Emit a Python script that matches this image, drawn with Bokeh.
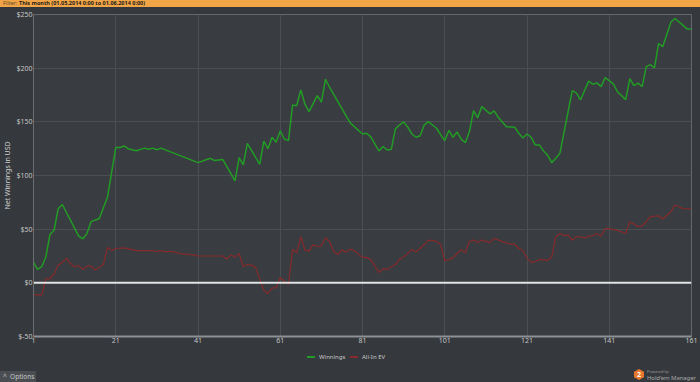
from bokeh.plotting import figure
from bokeh.models import Range1d, FixedTicker, PrintfTickFormatter, Span, Div
from bokeh.layouts import column
from bokeh.embed import file_html
from bokeh.resources import INLINE

# ---- data ----
hands_w = [1, 2, 3, 4, 5, 6, 7, 8, 12, 13, 14, 15, 17, 19, 21, 22, 23, 24, 26, 28, 29, 30,
           31, 32, 41, 44, 45, 47, 50, 51, 52, 53, 56, 57, 58, 59, 60, 61, 62, 63, 64, 65,
           66, 67, 68, 70, 71, 72, 73, 78, 81, 82, 83, 85, 86, 87, 88, 89, 90, 91, 92, 93,
           94, 95, 96, 97, 99, 100, 101, 102, 103, 104, 105, 106, 107, 108, 109, 110, 112,
           113, 114, 116, 118, 119, 120, 121, 122, 123, 124, 125, 126, 127, 128, 129, 132,
           133, 134, 136, 137, 138, 139, 140, 142, 143, 145, 146, 147, 148, 149, 150, 151,
           152, 153, 154, 156, 157, 160, 161]
winnings = [19, 12.5, 15, 24, 45, 49, 69, 73, 43.5, 41, 46, 57, 60, 80, 126, 126, 127.5, 125,
            123, 125.5, 124.5, 125.5, 124, 125.5, 112, 116, 114, 115, 95, 116.6, 110, 130,
            110.4, 132, 125, 135.6, 131, 141.5, 134, 132.5, 165.8, 165, 179.8, 166.4, 159.5,
            174.4, 168.3, 189.7, 182, 149, 138.7, 139.4, 136, 122.9, 127, 123.8, 124.4, 143.4,
            147, 150, 145, 138.7, 135.6, 137, 147, 150.2, 144, 138, 132.5, 142, 135.6, 140.6,
            133.8, 130.6, 140.9, 160.4, 153.6, 164.2, 157.4, 160.2, 154.3, 145.5, 145, 139.4,
            135, 138.7, 135.6, 128.5, 128.5, 122.9, 119, 112, 116, 120.7, 179, 177, 170.4,
            187.9, 185, 186.3, 182.8, 191.2, 185.4, 178, 170.7, 190.3, 183.8, 186, 182.8,
            201.5, 203.3, 200.3, 223, 220, 243, 246.3, 236.4, 236.4]

hands_ev = [1, 3, 4, 5, 6, 7, 8, 9, 10, 11, 12, 13, 14, 15, 16, 17, 18, 19, 20, 21, 23, 26,
            30, 31, 32, 33, 35, 37, 40, 41, 47, 48, 49, 50, 51, 52, 53, 54, 55, 57, 58, 59,
            60, 61, 62, 63, 64, 65, 66, 67, 68, 69, 70, 71, 72, 73, 74, 75, 76, 77, 78, 79,
            81, 82, 83, 85, 86, 87, 88, 89, 90, 91, 92, 93, 94, 95, 97, 98, 99, 100, 101,
            102, 103, 105, 106, 107, 108, 109, 110, 112, 113, 115, 117, 118, 119, 120, 121,
            122, 123, 124, 126, 127, 128, 129, 130, 131, 132, 133, 134, 135, 136, 137, 138,
            139, 140, 142, 144, 145, 146, 147, 148, 149, 150, 151, 153, 154, 156, 157, 159,
            161]
allin_ev = [-11, -11.5, 4, 4, 8, 16.5, 19, 22.7, 18, 15, 16, 12.5, 15.5, 15.5, 12, 14.5, 17,
            33, 30, 32, 32.5, 30, 30, 29, 30, 29, 29, 27, 26, 25, 25, 22, 26, 24, 27.4, 15,
            17, 16.5, 14.4, -6.8, -10, -4.7, -4.7, 5, 1.5, -1.5, 31, 28, 43, 30.5, 29.5,
            35.8, 33.6, 34.7, 42, 38.5, 29, 26.4, 30.5, 28.5, 31.4, 30, 23.7, 23.7, 21.4,
            9.7, 13, 12.7, 14.7, 17, 21.8, 24.2, 27.4, 31, 29, 32, 39.5, 39.5, 38.5, 36,
            20.5, 21.5, 23.5, 30.8, 28.2, 38.7, 40, 37.6, 40, 37.5, 41.4, 38.4, 36, 36, 32,
            30.2, 23, 19, 19.8, 21.8, 21, 24.1, 43, 46, 44, 44.6, 39.8, 42.9, 42.9, 41.7,
            43.5, 43.8, 46, 43.5, 50.7, 49.8, 47.6, 46, 57, 54.8, 52.3, 53, 57, 61.6, 62.5,
            59.5, 66.2, 72.5, 69, 69]

x_ticks = [1, 21, 41, 61, 81, 101, 121, 141, 161]
y_ticks = [-50, 0, 50, 100, 150, 200, 250]
series_names = ["Winnings", "All-In EV"]
series_colors = ["#219c24", "#862a2c"]
y_title = "Net Winnings in USD"
filter_label = "Filter:"
filter_text = "This month (01.05.2014 0:00 to 01.06.2014 0:00)"

FONT = "Noto Sans"
BG = "#35383c"
PLOT_BG = "#393c40"

p = figure(width=700, height=343, x_range=Range1d(1, 161), y_range=Range1d(-50, 250),
           output_backend="svg", toolbar_location=None,
           min_border_left=33, min_border_right=9, min_border_top=7, min_border_bottom=14,
           background_fill_color=PLOT_BG, border_fill_color=BG,
           outline_line_color="#65696d", outline_line_width=1)

zero = Span(location=0, dimension="width", line_color="#e2e2e2", line_width=2, level="glyph")
p.add_layout(zero)

gl = p.line(hands_w, winnings, line_color=series_colors[0], line_width=1.5)
rl = p.line(hands_ev, allin_ev, line_color=series_colors[1], line_width=1.2)

p.xaxis.ticker = FixedTicker(ticks=x_ticks)
p.yaxis.ticker = FixedTicker(ticks=y_ticks)
p.yaxis.formatter = PrintfTickFormatter(format="$%d")
p.xgrid.ticker = FixedTicker(ticks=x_ticks)
p.ygrid.ticker = FixedTicker(ticks=y_ticks)
p.grid.grid_line_color = "#4b4f53"
p.grid.grid_line_width = 1

for ax in (p.xaxis, p.yaxis):
    ax.major_tick_line_color = None
    ax.minor_tick_line_color = None
    ax.major_tick_out = 0
    ax.major_tick_in = 0
    ax.minor_tick_out = 0
    ax.minor_tick_in = 0
    ax.major_label_text_font = FONT
    ax.major_label_text_font_size = "7px"
    ax.major_label_text_color = "#c6c6c6"
p.xaxis.major_label_standoff = 1
p.xaxis.axis_line_color = "#8e9296"
p.xaxis.axis_line_width = 2
p.yaxis.axis_line_color = "#6a6e72"
p.yaxis.axis_line_width = 1
p.yaxis.axis_label = y_title
p.yaxis.axis_label_text_font = FONT
p.yaxis.axis_label_text_font_size = "7px"
p.yaxis.axis_label_text_font_style = "normal"
p.yaxis.axis_label_text_color = "#d2d2d2"
p.yaxis.axis_label_standoff = 1
p.yaxis.major_label_standoff = 1

HOST = {"overflow": "hidden", "font-size": "0px", "line-height": "0px"}

header = Div(
    text=('<div style="position:relative;display:block;vertical-align:top;width:700px;height:7px;overflow:hidden;">'
          '<div style="position:absolute;left:3px;top:0px;font-family:\'Noto Sans\',sans-serif;'
          'font-size:5.5px;line-height:7px;white-space:nowrap;color:#1a1a1a;">'
          '<span style="color:#5b4a2e">' + filter_label + '</span> <b>' + filter_text + '</b></div></div>'),
    width=700, height=7, margin=0,
    styles=dict(HOST, **{"background-color": "#f2a546"}))

legend_html = (
    '<div style="position:absolute;left:307px;top:6px;width:8px;height:2px;background:' + series_colors[0] + ';"></div>'
    '<div style="position:absolute;left:319px;top:3px;font-size:6px;line-height:8px;color:#c8c8c8;white-space:nowrap;">'
    + series_names[0] + '</div>'
    '<div style="position:absolute;left:350px;top:6px;width:8px;height:2px;background:' + series_colors[1] + ';"></div>'
    '<div style="position:absolute;left:362px;top:3px;font-size:6px;line-height:8px;color:#c8c8c8;white-space:nowrap;">'
    + series_names[1] + '</div>')

footer = Div(
    text=('<div style="position:relative;display:block;vertical-align:top;width:700px;height:32px;'
          'font-family:\'Noto Sans\',sans-serif;">'
          + legend_html +
          '<div style="position:absolute;left:0;top:21px;width:36px;height:11px;background:#4a4e53;'
          'color:#c8c8c8;font-size:6.5px;line-height:11px;padding-left:3px;box-sizing:border-box;'
          'white-space:nowrap;">^&nbsp;&nbsp;Options</div>'
          '<div style="position:absolute;left:634px;top:19px;width:10px;height:11px;background:#e8772e;'
          'clip-path:polygon(50% 0,100% 25%,100% 75%,50% 100%,0 75%,0 25%);color:#fff;font-size:7px;'
          'font-weight:bold;line-height:11px;text-align:center;">2</div>'
          '<div style="position:absolute;left:647px;top:19px;font-size:4px;line-height:5px;color:#9a9a9a;'
          'white-space:nowrap;">Powered by</div>'
          '<div style="position:absolute;left:647px;top:24px;font-size:6px;line-height:8px;color:#a8a8a8;'
          'white-space:nowrap;letter-spacing:-0.1px;">Hold\'em Manager</div></div>'),
    width=700, height=32, margin=0,
    styles=dict(HOST, **{"background-color": BG}))

layout = column(header, p, footer, spacing=0)

template = ("{% block preamble %}<style>html, body { margin: 0 !important; padding: 0 !important; "
            "background: " + BG + "; overflow: hidden; }</style>{% endblock %}")

open("out.html", "w").write(file_html(layout, INLINE, template=template))
